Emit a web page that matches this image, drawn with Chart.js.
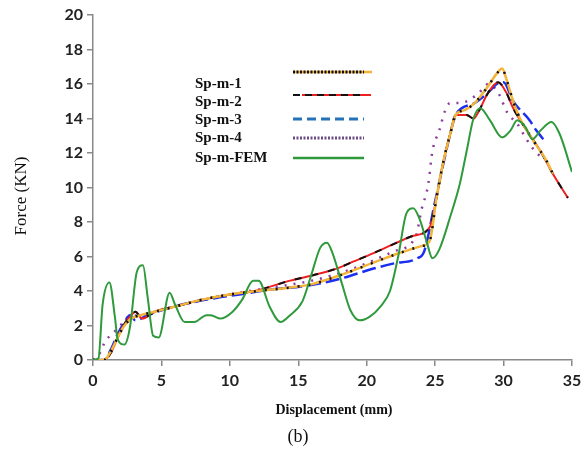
<!DOCTYPE html>
<html>
<head>
<meta charset="utf-8">
<script src="https://cdn.jsdelivr.net/npm/chart.js@4"></script>
<style>
  html, body { margin: 0; padding: 0; background: #fff; }
  #wrap { width: 587px; height: 452px; }
</style>
</head>
<body>
<div id="wrap"><canvas id="forceChart" width="587" height="452"></canvas></div>
<script>
  // displacement (mm) / force (kN) readings per specimen
  const sp1X = [0, 0.8, 1.3, 1.8, 2.3, 2.8, 3.5, 4.5, 6, 8, 10, 12, 14.4, 16, 18, 21, 22.4, 24, 24.6, 25.1, 25.6, 26.1, 26.5, 27.2, 27.9, 28.8, 29.5, 29.9, 30.2, 30.7, 31.2, 32.1, 33.1, 33.6];
  const sp1Y = [0, 0, 0.5, 1.3, 2.0, 2.4, 2.6, 2.8, 3.1, 3.5, 3.8, 4.0, 4.2, 4.4, 4.9, 5.8, 6.2, 6.6, 6.9, 9.4, 11.5, 13.1, 14.2, 14.5, 14.9, 15.8, 16.6, 16.9, 16.3, 15.0, 14.0, 12.8, 11.6, 10.8];

  const sp2X = [0, 0.8, 1.3, 1.8, 2.3, 2.8, 3.1, 3.6, 4.5, 6, 8, 10, 11.8, 14.4, 16, 17.8, 19, 20.5, 22.2, 23.4, 24.6, 25.1, 25.6, 26.1, 26.5, 27.3, 27.8, 28.3, 28.8, 29.6, 30.2, 30.7, 31.7, 32.7, 33.6, 34.7];
  const sp2Y = [0, 0, 0.4, 1.3, 2.1, 2.6, 2.8, 2.4, 2.8, 3.1, 3.5, 3.8, 4.0, 4.6, 4.9, 5.3, 5.7, 6.2, 6.8, 7.2, 7.7, 9.4, 11.5, 13.1, 14.2, 14.2, 14.0, 14.6, 15.4, 16.1, 15.5, 14.6, 13.3, 12.1, 10.8, 9.4];

  const sp3X = [0, 0.8, 1.3, 1.8, 2.3, 2.7, 3.1, 4, 5.5, 7, 9, 10.7, 13.1, 15.6, 18, 20.5, 22, 23.7, 24.2, 25.0, 26.1, 26.5, 27.9, 29.0, 29.5, 30.0, 30.7, 31.9, 32.4, 32.9];
  const sp3Y = [0, 0, 0.6, 1.5, 2.2, 2.6, 2.3, 2.6, 3.0, 3.3, 3.6, 3.8, 4.1, 4.3, 4.7, 5.3, 5.6, 5.9, 6.3, 9.2, 13.1, 14.2, 14.9, 15.6, 16.0, 16.1, 15.0, 13.9, 13.3, 12.8];

  const sp4X = [0, 0.5, 0.9, 1.4, 2, 2.6, 3.5, 5, 7, 10, 13, 16, 19, 22, 23.6, 24.0, 24.5, 24.8, 25.3, 25.7, 26.1, 26.8, 28.1, 28.9, 29.6, 30.3, 31.0, 31.6, 32.1, 32.8];
  const sp4Y = [0, 0.4, 1.1, 1.5, 2.0, 2.5, 2.6, 2.9, 3.3, 3.8, 4.2, 4.6, 5.3, 6.3, 7.2, 8.7, 10.2, 12.1, 13.3, 14.4, 14.9, 14.9, 15.4, 16.0, 15.5, 14.3, 13.7, 12.9, 12.3, 11.7];

  const femX = [0, 0.4, 0.7, 1.2, 1.6, 1.8, 2.3, 2.7, 3.2, 3.65, 4.0, 4.4, 4.8, 5.6, 6.0, 6.7, 7.4, 8.3, 8.6, 9.3, 10.2, 10.9, 11.7, 12.1, 12.9, 13.7, 14.4, 15.3, 15.9, 16.6, 17.1, 17.5, 18.2, 18.8, 19.5, 20.2, 21.0, 21.7, 22.3, 22.9, 23.4, 23.9, 24.4, 24.8, 25.3, 26.1, 26.8, 27.3, 27.8, 28.3, 29.0, 29.9, 30.5, 31.0, 31.6, 32.1, 32.7, 33.5, 34.1, 35.0];
  const femY = [0, 0.1, 3.2, 4.5, 2.5, 1.2, 0.9, 1.9, 5.1, 5.5, 3.6, 1.4, 1.3, 3.9, 3.2, 2.2, 2.2, 2.6, 2.6, 2.4, 2.8, 3.5, 4.6, 4.6, 3.1, 2.2, 2.6, 3.4, 4.8, 6.5, 6.8, 6.2, 4.4, 2.9, 2.3, 2.5, 3.1, 4.0, 6.0, 8.5, 8.8, 8.1, 6.8, 5.9, 6.4, 8.3, 10.2, 12.1, 14.0, 14.6, 13.9, 12.9, 13.3, 13.9, 13.5, 12.8, 13.3, 13.8, 13.1, 10.9];

  const legendNames = ['Sp-m-1', 'Sp-m-2', 'Sp-m-3', 'Sp-m-4', 'Sp-m-FEM'];

  const pts = (xs, ys) => xs.map((x, i) => ({ x: x, y: ys[i] }));

  const ORANGE = '#f2b53a';
  const RED = '#ee2020';
  const BLUE = '#1c2ff0';
  const PURPLE = '#8e3a9c';
  const GREEN = '#2f9a3c';

  function line(label, xs, ys, color, width, dash, order) {
    return {
      label: label,
      data: pts(xs, ys),
      borderColor: color,
      borderWidth: width,
      borderDash: dash,
      pointRadius: 0,
      fill: false,
      cubicInterpolationMode: 'monotone',
      order: order
    };
  }

  // legend, axis titles and caption drawn straight onto the canvas
  const annotations = {
    id: 'annotations',
    afterDraw(chart) {
      const ctx = chart.ctx;
      ctx.save();
      ctx.fillStyle = '#111';
      ctx.textBaseline = 'middle';

      // legend labels
      ctx.font = 'bold 15px "Liberation Serif"';
      ctx.textAlign = 'left';
      const labelY = [84, 102, 120, 138, 158];
      legendNames.forEach((n, i) => ctx.fillText(n, 195, labelY[i]));

      // legend line samples
      const seg = (y, color, w, dash, x0, x1) => {
        ctx.beginPath();
        ctx.setLineDash(dash);
        ctx.strokeStyle = color;
        ctx.lineWidth = w;
        ctx.moveTo(x0, y);
        ctx.lineTo(x1, y);
        ctx.stroke();
      };
      seg(72, ORANGE, 2.5, [], 293, 372);
      seg(72, '#111', 3, [2, 1.5], 293, 364);
      seg(95, RED, 2, [], 302, 371);
      seg(95, '#111', 2, [7, 5], 293, 364);
      seg(119, '#2473b8', 3, [9, 5], 293, 364);
      seg(138, '#6a4a86', 3, [2, 1.5], 293, 364);
      seg(158, GREEN, 2.5, [], 293, 364);
      ctx.setLineDash([]);

      // axis titles
      ctx.textAlign = 'center';
      ctx.font = 'bold 14px "Liberation Serif"';
      ctx.fillText('Displacement (mm)', 334, 410);
      ctx.font = '18px "Liberation Serif"';
      ctx.fillText('(b)', 298, 437);

      ctx.translate(22, 196);
      ctx.rotate(-Math.PI / 2);
      ctx.font = '17px "Liberation Serif"';
      ctx.fillText('Force (KN)', 0, 0);
      ctx.restore();
    }
  };

  const tickFont = { family: 'Lato', size: 16, weight: 'bold' };

  new Chart(document.getElementById('forceChart'), {
    type: 'line',
    data: {
      datasets: [
        line('Sp-m-1', sp1X, sp1Y, '#111', 2.5, [2, 9], 1),
        line('Sp-m-1', sp1X, sp1Y, ORANGE, 2.5, [], 2),
        line('Sp-m-2', sp2X, sp2Y, '#111', 2, [7, 10], 3),
        line('Sp-m-2', sp2X, sp2Y, RED, 2, [], 4),
        line('Sp-m-3', sp3X, sp3Y, BLUE, 2.5, [14, 5], 5),
        line('Sp-m-4', sp4X, sp4Y, PURPLE, 2.5, [2, 7], 6),
        line('Sp-m-FEM', femX, femY, GREEN, 2, [], 0)
      ]
    },
    options: {
      responsive: false,
      animation: false,
      layout: { padding: { top: 15, right: 15, left: 0, bottom: 0 } },
      plugins: {
        legend: { display: false },
        tooltip: { enabled: false }
      },
      scales: {
        x: {
          type: 'linear',
          min: 0,
          max: 35,
          ticks: { stepSize: 5, color: '#222', font: tickFont, padding: 5 },
          grid: { drawOnChartArea: false, tickLength: 6, color: '#888', lineWidth: 1.5 },
          border: { color: '#888', width: 1.5 },
          afterFit(scale) { scale.height = 92; }
        },
        y: {
          min: 0,
          max: 20,
          ticks: { stepSize: 2, color: '#222', font: tickFont, padding: 4 },
          grid: { drawOnChartArea: false, tickLength: 6, color: '#888', lineWidth: 1.5 },
          border: { color: '#888', width: 1.5 },
          afterFit(scale) { scale.width = 93; }
        }
      }
    },
    plugins: [annotations]
  });
</script>
</body>
</html>
